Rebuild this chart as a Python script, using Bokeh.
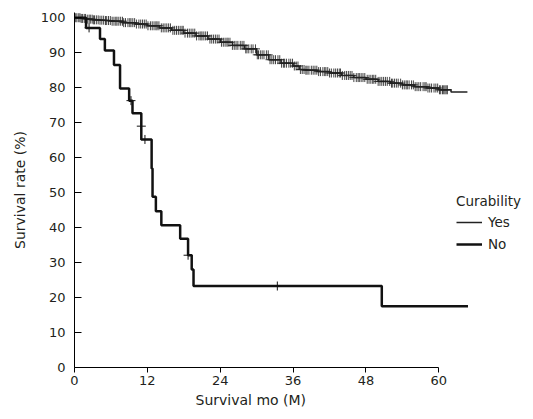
import numpy as np
from bokeh.plotting import figure
from bokeh.models import Range1d, FixedTicker, Legend, LegendItem, Title
from bokeh.embed import file_html
from bokeh.resources import INLINE

# ---- data ----
x_ticks = [0, 12, 24, 36, 48, 60]
y_ticks = [0, 10, 20, 30, 40, 50, 60, 70, 80, 90, 100]

# Curability = Yes : Kaplan-Meier step curve (months, survival %)
yes_t = [0, 1, 2, 3, 4, 5, 6, 8, 10, 12, 14, 16, 18, 20, 22, 24, 26, 28, 30,
         32, 34, 36, 37, 38, 40, 42, 44, 46, 48, 50, 52, 54, 56, 58, 60, 62, 64.7]
yes_s = [100, 99.8, 99.6, 99.4, 99.3, 99.2, 99.0, 98.6, 98.2, 97.7, 97.1, 96.4,
         95.6, 94.8, 93.9, 93.0, 92.1, 91.1, 89.4, 88.0, 87.0, 86.2, 85.2, 85.0,
         84.6, 84.2, 83.5, 82.9, 82.4, 81.8, 81.3, 80.8, 80.3, 79.9, 79.4, 78.8, 78.8]
# censored observations (months) for Yes
yes_cens_t = [0.2, 0.4, 0.7, 0.9, 1.1, 1.3, 1.6, 1.8, 2.1, 2.4, 2.6, 2.9, 3.1,
              3.3, 3.6, 3.9, 4.2, 4.5, 4.8, 5.1, 5.3, 5.6, 5.9, 6.2, 6.5, 6.8,
              7.0, 7.3, 7.6, 7.9, 8.1, 8.4, 8.8, 9.1, 9.3, 9.6, 9.9, 10.2, 10.6,
              10.9, 11.2, 11.5, 11.8, 12.1, 12.5, 12.8, 13.1, 13.4, 13.6, 13.9,
              14.3, 14.6, 14.9, 15.2, 15.5, 15.8, 16.2, 16.5, 16.8, 17.1, 17.4,
              17.7, 17.9, 18.2, 18.6, 18.9, 19.2, 19.5, 19.8, 20.1, 20.5, 20.8,
              21.0, 21.3, 21.6, 21.9, 22.3, 22.6, 22.9, 23.2, 23.5, 23.8, 24.2,
              24.5, 24.8, 25.1, 25.3, 25.6, 26.0, 26.3, 26.6, 26.9, 27.3, 27.6,
              27.9, 28.2, 28.4, 28.7, 29.1, 29.4, 29.8, 30.1, 30.3, 30.6, 30.9,
              31.2, 31.6, 31.9, 32.2, 32.5, 32.8, 33.1, 33.5, 33.8, 34.1, 34.4,
              34.6, 34.9, 35.3, 35.6, 35.9, 36.2, 36.5, 36.8, 37.2, 37.5, 37.8,
              38.1, 38.3, 38.6, 39.0, 39.3, 39.6, 39.9, 40.2, 40.5, 40.9, 41.2,
              41.4, 41.7, 42.0, 42.3, 42.7, 43.0, 43.3, 43.6, 43.8, 44.1, 44.5,
              44.8, 45.1, 45.4, 45.7, 46.0, 46.4, 46.7, 46.9, 47.2, 47.5, 47.8,
              48.2, 48.5, 48.8, 49.1, 49.3, 49.6, 50.0, 50.3, 50.6, 50.9, 51.2,
              51.5, 51.9, 52.2, 52.4, 52.7, 53.0, 53.3, 53.7, 54.0, 54.3, 54.6,
              54.8, 55.1, 55.5, 55.8, 56.1, 56.4, 56.7, 57.0, 57.4, 57.7, 57.9,
              58.2, 58.5, 58.8, 59.2, 59.5, 59.8, 60.1, 60.3, 60.6, 60.8, 61.0,
              61.2, 61.4]

# Curability = No
no_t = [0, 1.9, 4.2, 5.0, 6.5, 7.5, 9.0, 9.55, 11.0, 12.7, 12.85, 13.4, 14.3,
        17.4, 18.7, 19.3, 19.6, 50.6, 64.8]
no_s = [100, 97.1, 93.9, 90.6, 86.5, 79.8, 76.3, 72.7, 65.2, 56.9, 48.8, 44.7,
        40.7, 36.8, 32.1, 28.0, 23.3, 17.5, 17.5]
no_cens_t = [2.4, 9.3, 11.0, 11.6, 18.7, 33.4]
no_cens_s = [97.1, 76.3, 69.0, 65.2, 32.1, 23.3]

x_title = "Survival mo (M)"
y_title = "Survival rate (%)"

# KM value at each censored time (step lookup on the Yes curve)
idx = np.searchsorted(np.array(yes_t), np.array(yes_cens_t), side="right") - 1
yes_cens_s = [yes_s[i] for i in idx]

FONT = "DejaVu Sans"
TXT = "#231f20"

p = figure(output_backend="svg", toolbar_location=None,
           frame_width=450, frame_height=355,
           x_range=Range1d(0, 74.1), y_range=Range1d(0, 101.5),
           min_border_left=74, min_border_right=1, min_border_top=12,
           min_border_bottom=0)
p.outline_line_color = None
p.grid.visible = False
p.background_fill_color = "white"
p.border_fill_color = "white"

r_yes = p.step(yes_t, yes_s, mode="after", line_color="#222222", line_width=1.5)
p.scatter(yes_cens_t, yes_cens_s, marker="cross", size=9,
          line_color="#222222", line_alpha=0.85, line_width=1)
r_no = p.step(no_t, no_s, mode="after", line_color="#111111", line_width=2.5)
p.scatter(no_cens_t, no_cens_s, marker="cross", size=9,
          line_color="#111111", line_width=1)

# axes
xa = p.xaxis[0]
xa.ticker = FixedTicker(ticks=x_ticks)
xa.bounds = (0, 60)
xa.major_tick_out = 5
xa.major_tick_in = 0
xa.minor_tick_line_color = None
xa.major_label_standoff = 3

ya = p.yaxis[0]
ya.ticker = FixedTicker(ticks=y_ticks)
ya.major_tick_out = 0
ya.major_tick_in = 7
ya.minor_tick_line_color = None
ya.axis_label = y_title
ya.major_label_standoff = 9
ya.axis_label_standoff = 10

for ax in (xa, ya):
    ax.axis_line_color = "black"
    ax.major_tick_line_color = "black"
    ax.major_label_text_font = FONT
    ax.major_label_text_font_size = "13px"
    ax.major_label_text_color = TXT
    ax.axis_label_text_font = FONT
    ax.axis_label_text_font_size = "14px"
    ax.axis_label_text_font_style = "normal"
    ax.axis_label_text_color = TXT

# x-axis title centred under the bounded axis (0..60)
p.add_layout(Title(text=x_title, align="left", offset=121, standoff=5,
                   text_font=FONT, text_font_size="14px",
                   text_font_style="normal", text_color=TXT), "below")

legend = Legend(items=[LegendItem(label="Yes", renderers=[r_yes]),
                       LegendItem(label="No", renderers=[r_no])],
                title="Curability", location=(382, 113))
legend.title_text_font = FONT
legend.title_text_font_size = "13.5px"
legend.title_text_font_style = "normal"
legend.title_text_color = TXT
legend.title_standoff = 3
legend.label_text_font = FONT
legend.label_text_font_size = "13.5px"
legend.label_text_color = TXT
legend.glyph_width = 26
legend.glyph_height = 20
legend.label_height = 20
legend.label_standoff = 6
legend.spacing = 2
legend.padding = 0
legend.margin = 0
legend.border_line_color = None
legend.background_fill_alpha = 0
p.add_layout(legend, "center")

open("out.html", "w").write(file_html(p, INLINE))
